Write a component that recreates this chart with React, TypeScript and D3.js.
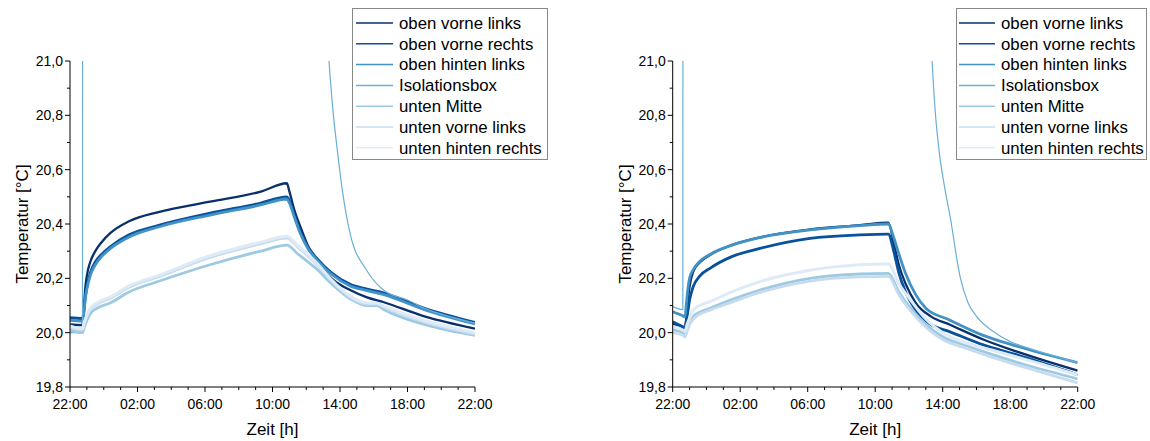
import React from "react";
import * as d3 from "d3";

type Pt = [number, number];

// legend / series
const seriesNames = [
  "oben vorne links",
  "oben vorne rechts",
  "oben hinten links",
  "Isolationsbox",
  "unten Mitte",
  "unten vorne links",
  "unten hinten rechts",
];
const seriesColors = ["#08306b", "#08519c", "#4292c6", "#6baed6", "#9ecae1", "#c6dbef", "#deebf7"];
const seriesWidths = [2.3, 2.8, 2.8, 1.2, 2.8, 2.8, 3];

// axes
const xTickHours = [0, 4, 8, 12, 16, 20, 24];
const xTickLabels = ["22:00", "02:00", "06:00", "10:00", "14:00", "18:00", "22:00"];
const yTickValues = [19.8, 20.0, 20.2, 20.4, 20.6, 20.8, 21.0];
const yTickLabels = ["19,8", "20,0", "20,2", "20,4", "20,6", "20,8", "21,0"];

// left chart, hours after 22:00 -> °C
const L_obenVorneLinks: Pt[] = [[0, 20.03], [0.74, 20.028], [0.82, 20.08], [0.9, 20.16], [1.0, 20.21], [1.2, 20.26], [1.5, 20.3], [1.9, 20.335], [2.4, 20.367], [3.5, 20.41], [5.3, 20.445], [8.3, 20.482], [11.3, 20.519], [12.85, 20.55], [13.0, 20.52], [13.3, 20.45], [13.65, 20.39], [14.1, 20.32], [14.6, 20.27], [15.5, 20.2], [16.6, 20.157], [17.6, 20.13], [18.6, 20.112], [21, 20.06], [24, 20.015]];
const L_obenVorneRechts: Pt[] = [[0, 20.055], [0.74, 20.052], [0.82, 20.08], [0.9, 20.13], [1.0, 20.17], [1.2, 20.22], [1.5, 20.26], [1.9, 20.29], [2.4, 20.317], [3.5, 20.36], [5.3, 20.396], [8.3, 20.44], [11.3, 20.477], [12.85, 20.5], [13.0, 20.485], [13.3, 20.43], [13.65, 20.37], [14.1, 20.315], [14.6, 20.275], [15.5, 20.22], [16.6, 20.178], [17.6, 20.16], [18.6, 20.146], [21, 20.09], [24, 20.038]];
const L_obenHintenLinks: Pt[] = [[0, 20.045], [0.74, 20.042], [0.82, 20.07], [0.9, 20.12], [1.0, 20.16], [1.2, 20.21], [1.5, 20.25], [1.9, 20.282], [2.4, 20.31], [3.5, 20.352], [5.3, 20.39], [8.3, 20.433], [11.3, 20.47], [12.85, 20.492], [13.0, 20.478], [13.3, 20.425], [13.65, 20.365], [14.1, 20.31], [14.6, 20.27], [15.5, 20.215], [16.6, 20.172], [17.6, 20.155], [18.6, 20.14], [21, 20.085], [24, 20.032]];
const L_isolationsbox: Pt[] = [[0, 20.0], [0.74, 20.0], [0.76, 23.5], [13.8, 23.5], [14.4, 22.6], [14.8, 21.8], [15.1, 21.3], [15.35, 21.0], [15.58, 20.82], [15.84, 20.672], [16.18, 20.507], [16.59, 20.367], [17.58, 20.23], [18.57, 20.157], [20, 20.12], [21, 20.09], [24, 20.035]];
const L_untenMitte: Pt[] = [[0, 20.01], [0.74, 20.0], [0.85, 20.02], [1.0, 20.045], [1.2, 20.07], [1.6, 20.09], [2.4, 20.11], [3.5, 20.15], [5.3, 20.19], [8.3, 20.25], [11.3, 20.3], [12.85, 20.322], [13.5, 20.29], [14.6, 20.235], [15.5, 20.18], [16.6, 20.125], [17.6, 20.1], [18.2, 20.1], [18.6, 20.085], [21, 20.03], [24, 19.99]];
const L_untenVorneLinks: Pt[] = [[0, 20.02], [0.74, 20.01], [0.85, 20.035], [1.0, 20.06], [1.2, 20.085], [1.6, 20.105], [2.4, 20.127], [3.5, 20.167], [5.3, 20.207], [8.3, 20.277], [11.3, 20.327], [12.85, 20.348], [13.5, 20.315], [14.6, 20.252], [15.5, 20.19], [16.6, 20.13], [17.6, 20.105], [18.2, 20.105], [18.6, 20.094], [21, 20.04], [24, 19.995]];
const L_untenHintenRechts: Pt[] = [[0, 20.025], [0.74, 20.015], [0.85, 20.04], [1.0, 20.065], [1.2, 20.09], [1.6, 20.11], [2.4, 20.132], [3.5, 20.172], [5.3, 20.212], [8.3, 20.283], [11.3, 20.333], [12.85, 20.355], [13.5, 20.32], [14.6, 20.258], [15.5, 20.195], [16.6, 20.135], [17.6, 20.11], [18.2, 20.108], [18.6, 20.098], [21, 20.045], [24, 20.0]];

// right chart
const R_obenVorneLinks: Pt[] = [[0, 20.033], [0.6, 20.02], [0.73, 20.016], [0.8, 20.05], [0.9, 20.12], [1.0, 20.17], [1.22, 20.225], [1.6, 20.258], [2.21, 20.286], [3.5, 20.322], [5.17, 20.351], [8.14, 20.38], [11.1, 20.396], [12.78, 20.405], [13.1, 20.33], [13.4, 20.25], [13.8, 20.18], [14.4, 20.11], [15.3, 20.06], [16.4, 20.03], [18.4, 19.975], [20.4, 19.93], [24, 19.86]];
const R_obenVorneRechts: Pt[] = [[0, 20.04], [0.6, 20.022], [0.73, 20.018], [0.8, 20.04], [0.9, 20.08], [1.0, 20.12], [1.22, 20.17], [1.6, 20.208], [2.21, 20.237], [3.5, 20.28], [5.17, 20.31], [8.14, 20.347], [11.1, 20.36], [12.78, 20.363], [13.1, 20.3], [13.4, 20.22], [13.8, 20.15], [14.4, 20.084], [15.3, 20.03], [16.4, 20.004], [18.4, 19.955], [20.4, 19.918], [24, 19.845]];
const R_obenHintenLinks: Pt[] = [[0, 20.077], [0.6, 20.062], [0.73, 20.058], [0.8, 20.1], [0.9, 20.16], [1.0, 20.2], [1.22, 20.232], [1.6, 20.262], [2.21, 20.288], [3.5, 20.322], [5.17, 20.35], [8.14, 20.378], [11.1, 20.394], [12.78, 20.4], [13.05, 20.36], [13.35, 20.3], [13.8, 20.218], [14.4, 20.14], [15.0, 20.09], [16.4, 20.047], [18.4, 19.99], [20.4, 19.95], [24, 19.89]];
const R_isolationsbox: Pt[] = [[0, 20.096], [0.6, 20.085], [0.62, 23.5], [13.8, 23.5], [14.4, 22.6], [14.8, 21.8], [15.1, 21.35], [15.37, 21.0], [15.55, 20.82], [15.78, 20.672], [16.1, 20.54], [16.44, 20.427], [17.03, 20.206], [17.5, 20.11], [18.02, 20.059], [19.0, 20.004], [20.0, 19.967], [21.0, 19.945], [24, 19.89]];
const R_untenMitte: Pt[] = [[0, 20.01], [0.6, 20.0], [0.73, 19.995], [0.85, 20.02], [1.0, 20.04], [1.22, 20.06], [1.6, 20.075], [2.21, 20.09], [3.5, 20.122], [5.17, 20.157], [8.14, 20.2], [11.1, 20.216], [12.78, 20.218], [13.4, 20.15], [14.1, 20.09], [15.0, 20.03], [16.0, 19.985], [17.5, 19.95], [18.9, 19.92], [21, 19.88], [24, 19.83]];
const R_untenVorneLinks: Pt[] = [[0, 20.0], [0.6, 19.99], [0.73, 19.985], [0.85, 20.005], [1.0, 20.03], [1.22, 20.05], [1.6, 20.068], [2.21, 20.083], [3.5, 20.112], [5.17, 20.148], [8.14, 20.19], [11.1, 20.205], [12.78, 20.207], [13.4, 20.14], [14.1, 20.08], [15.0, 20.02], [16.0, 19.975], [17.5, 19.94], [18.9, 19.91], [21, 19.87], [24, 19.815]];
const R_untenHintenRechts: Pt[] = [[0, 20.022], [0.6, 20.01], [0.73, 20.005], [0.85, 20.03], [1.0, 20.055], [1.22, 20.084], [1.6, 20.1], [2.21, 20.114], [3.5, 20.15], [5.17, 20.188], [8.14, 20.23], [11.1, 20.25], [12.78, 20.253], [13.4, 20.18], [14.1, 20.12], [15.0, 20.05], [16.0, 20.0], [17.5, 19.96], [18.9, 19.936], [21, 19.9], [24, 19.845]];

const leftSeries = [L_obenVorneLinks, L_obenVorneRechts, L_obenHintenLinks, L_isolationsbox, L_untenMitte, L_untenVorneLinks, L_untenHintenRechts];
const rightSeries = [R_obenVorneLinks, R_obenVorneRechts, R_obenHintenLinks, R_isolationsbox, R_untenMitte, R_untenVorneLinks, R_untenHintenRechts];

const FONT = "'Liberation Sans', Arial, sans-serif";
const plotTop = 61;
const plotBottom = 387;
const plotW = 405;

type PanelProps = {
  id: string;
  x0: number;
  series: Pt[][];
  legendX: number;
  legendW: number;
  lineStart: number;
  lineEnd: number;
  textX: number;
};

const Panel = (props: PanelProps) => {
  const { id, x0, series, legendX, legendW, lineStart, lineEnd, textX } = props;
  const xScale = d3.scaleLinear().domain([0, 24]).range([x0, x0 + plotW]);
  const yScale = d3.scaleLinear().domain([19.8, 21.0]).range([plotBottom, plotTop]);
  const line = d3
    .line<Pt>()
    .x((d) => xScale(d[0]))
    .y((d) => yScale(d[1]))
    .curve(d3.curveMonotoneX);

  const minorX = d3.range(0, 25, 1).filter((h) => h % 4 !== 0);
  const minorY = d3.range(0, 6).map((i) => 19.9 + i * 0.2);

  return (
    <g>
      <defs>
        <clipPath id={id}>
          <rect x={x0} y={plotTop} width={plotW} height={plotBottom - plotTop} />
        </clipPath>
      </defs>

      <g clipPath={`url(#${id})`}>
        {series.map((s, i) => (
          <path key={i} d={line(s) || ""} fill="none" stroke={seriesColors[i]} strokeWidth={seriesWidths[i]} strokeLinejoin="round" />
        ))}
      </g>

      {/* axes */}
      <line x1={x0} x2={x0 + plotW} y1={plotBottom} y2={plotBottom} stroke="#000" />
      <line x1={x0} x2={x0} y1={plotTop} y2={plotBottom} stroke="#000" />

      {xTickHours.map((h, i) => (
        <g key={"xt" + i}>
          <line x1={xScale(h)} x2={xScale(h)} y1={plotBottom} y2={plotBottom + 5} stroke="#000" />
          <text x={xScale(h)} y={409} textAnchor="middle" fontSize={14} fontFamily={FONT}>
            {xTickLabels[i]}
          </text>
        </g>
      ))}
      {minorX.map((h) => (
        <line key={"xm" + h} x1={xScale(h)} x2={xScale(h)} y1={plotBottom} y2={plotBottom + 3} stroke="#000" />
      ))}

      {yTickValues.map((v, i) => (
        <g key={"yt" + i}>
          <line x1={x0 - 5} x2={x0} y1={yScale(v)} y2={yScale(v)} stroke="#000" />
          <text x={x0 - 7} y={yScale(v)} dy="0.35em" textAnchor="end" fontSize={14} fontFamily={FONT}>
            {yTickLabels[i]}
          </text>
        </g>
      ))}
      {minorY.map((v, i) => (
        <line key={"ym" + i} x1={x0 - 3} x2={x0} y1={yScale(v)} y2={yScale(v)} stroke="#000" />
      ))}

      <text x={x0 + plotW / 2} y={435} textAnchor="middle" fontSize={17} fontFamily={FONT}>
        Zeit [h]
      </text>
      <text
        transform={`translate(${x0 - 42},${(plotTop + plotBottom) / 2}) rotate(-90)`}
        textAnchor="middle"
        fontSize={17}
        fontFamily={FONT}
      >
        Temperatur [°C]
      </text>

      {/* legend */}
      <rect x={legendX} y={8.5} width={legendW} height={151} fill="#fff" stroke="#888" />
      {seriesNames.map((name, i) => {
        const cy = 23 + i * 20.8;
        return (
          <g key={"lg" + i}>
            <line x1={lineStart} x2={lineEnd} y1={cy} y2={cy} stroke={seriesColors[i]} strokeWidth={1.5} />
            <text x={textX} y={cy} dy="0.35em" fontSize={16.8} fontFamily={FONT}>
              {name}
            </text>
          </g>
        );
      })}
    </g>
  );
};

const App = () => {
  return (
    <svg width={1150} height={441} style={{ position: "absolute", left: 0, top: 0, background: "#fff" }}>
      <rect width={1150} height={441} fill="#fff" />
      <Panel id="clipL" x0={70} series={leftSeries} legendX={352.5} legendW={195} lineStart={356} lineEnd={393} textX={399} />
      <Panel id="clipR" x0={672.7} series={rightSeries} legendX={956.5} legendW={190} lineStart={959} lineEnd={995} textX={1001} />
    </svg>
  );
};

export default App;
